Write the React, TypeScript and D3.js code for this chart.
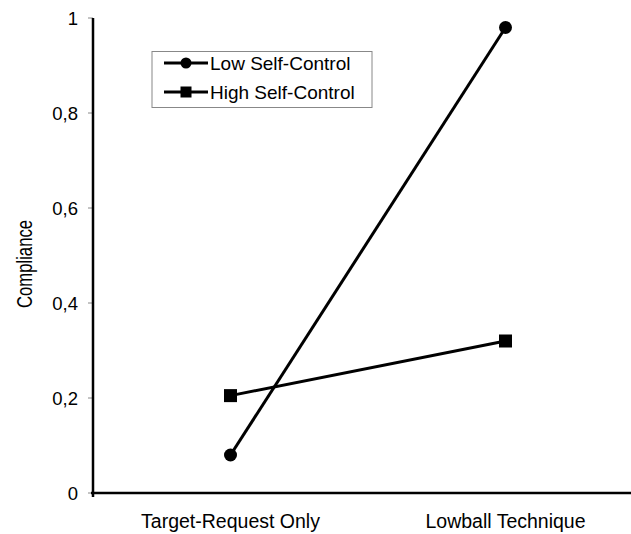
import React from "react";
import * as d3 from "d3";

const categories = ["Target-Request Only", "Lowball Technique"];
const lowSelfControl = [0.08, 0.98];
const highSelfControl = [0.205, 0.32];
const yTicks = [0, 0.2, 0.4, 0.6, 0.8, 1];
const seriesNames = ["Low Self-Control", "High Self-Control"];

export default function App() {
  const W = 631, H = 534;
  const x0 = 93, yTop = 18, yBottom = 493;
  const x = d3.scaleBand<string>().domain(categories).range([x0, 643]);
  const y = d3.scaleLinear().domain([0, 1]).range([yBottom, yTop]);
  const cx = (c: string) => (x(c) as number) + x.bandwidth() / 2;
  const line = d3.line<number>().x((_, i) => cx(categories[i])).y((v) => y(v));
  const fmt = (v: number) => (v === 0 || v === 1 ? String(v) : String(v).replace(".", ","));
  const font = "Liberation Sans, Arial, sans-serif";

  return (
    <svg width={W} height={H} style={{ position: "absolute", left: 0, top: 0 }} fontFamily={font}>
      <rect width={W} height={H} fill="#fff" />
      {yTicks.map((t) => (
        <g key={t}>
          <line x1={88} x2={x0} y1={y(t)} y2={y(t)} stroke="#888" strokeWidth={1} />
          <text x={78} y={y(t)} dy="0.36em" textAnchor="end" fontSize={18.5}>
            {fmt(t)}
          </text>
        </g>
      ))}
      <line x1={x0} x2={x0} y1={yTop} y2={yBottom + 4} stroke="#000" strokeWidth={2.5} />
      <line x1={x0 - 2} x2={W} y1={yBottom} y2={yBottom} stroke="#000" strokeWidth={2.5} />
      {categories.map((c) => (
        <text key={c} x={cx(c)} y={528} textAnchor="middle" fontSize={19.5}>
          {c}
        </text>
      ))}
      <text
        transform={`translate(32,264) rotate(-90)`}
        textAnchor="middle"
        fontSize={22}
        textLength={88}
        lengthAdjust="spacingAndGlyphs"
      >
        Compliance
      </text>
      <path d={line(lowSelfControl) || ""} fill="none" stroke="#000" strokeWidth={3} />
      <path d={line(highSelfControl) || ""} fill="none" stroke="#000" strokeWidth={3} />
      {lowSelfControl.map((v, i) => (
        <circle key={i} cx={cx(categories[i])} cy={y(v)} r={6.5} fill="#000" />
      ))}
      {highSelfControl.map((v, i) => (
        <rect key={i} x={cx(categories[i]) - 6.5} y={y(v) - 6.5} width={13} height={13} fill="#000" />
      ))}
      <g>
        <rect x={152} y={51.5} width={220} height={56} fill="#fff" stroke="#888" strokeWidth={1} />
        {seriesNames.map((n, i) => {
          const ly = 63 + i * 29;
          return (
            <g key={n}>
              <line x1={164} x2={208} y1={ly} y2={ly} stroke="#000" strokeWidth={3} />
              {i === 0 ? (
                <circle cx={186} cy={ly} r={5.5} fill="#000" />
              ) : (
                <rect x={180.5} y={ly - 5.5} width={11} height={11} fill="#000" />
              )}
              <text x={210} y={ly} dy="0.36em" fontSize={19}>
                {n}
              </text>
            </g>
          );
        })}
      </g>
    </svg>
  );
}
